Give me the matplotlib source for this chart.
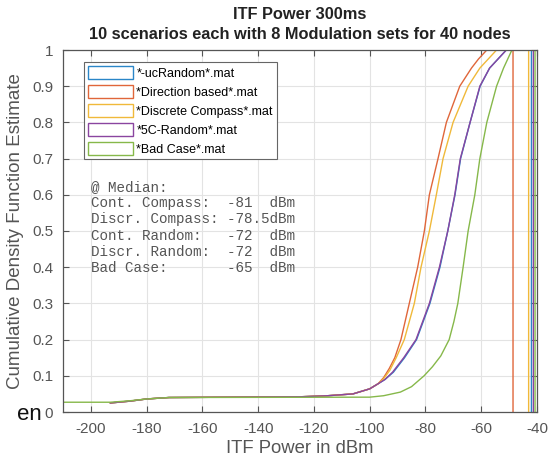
import matplotlib
matplotlib.use("Agg")
import matplotlib.pyplot as plt
from matplotlib.patches import Patch

plt.rcParams['font.family'] = ['Liberation Sans', 'DejaVu Sans']
plt.rcParams['axes.unicode_minus'] = False

# CDF curves (x in dBm, y = cumulative fraction)
tail_x = [-193, -186, -180, -172, -125, -115, -106, -100, -97]
tail_y = [0.025, 0.030, 0.036, 0.040, 0.042, 0.045, 0.050, 0.064, 0.078]

blue_x = tail_x + [-94.5, -91.5, -87.5, -83.2, -78.4, -74.8, -72, -69.4, -67.4, -64, -60.4, -57, -54, -51, -42, -42]
blue_y = tail_y + [0.09, 0.11, 0.15, 0.2, 0.3, 0.4, 0.5, 0.6, 0.7, 0.8, 0.9, 0.95, 0.975, 1.0, 1.0, 0.0]

red_x = tail_x + [-95, -93, -91, -88.8, -85.8, -82.8, -80.4, -78.6, -75.5, -72.5, -67.7, -63.5, -61, -58, -48.6, -48.6]
red_y = tail_y + [0.095, 0.12, 0.15, 0.2, 0.3, 0.4, 0.5, 0.6, 0.7, 0.8, 0.9, 0.95, 0.975, 1.0, 1.0, 0.0]

yellow_x = tail_x + [-95, -92.8, -90.5, -87.6, -84, -81.6, -78.6, -76.1, -73.7, -70.1, -64.7, -60.5, -57.5, -54.5, -43, -43]
yellow_y = tail_y + [0.092, 0.115, 0.15, 0.2, 0.3, 0.4, 0.5, 0.6, 0.7, 0.8, 0.9, 0.95, 0.975, 1.0, 1.0, 0.0]

purple_x = tail_x + [-94.5, -91.8, -87.8, -83.4, -78.6, -75, -72, -69.5, -67.5, -64, -60.5, -57, -54, -51, -41.3, -41.3]
purple_y = tail_y + [0.09, 0.11, 0.15, 0.2, 0.3, 0.4, 0.5, 0.6, 0.7, 0.8, 0.9, 0.95, 0.975, 1.0, 1.0, 0.0]

green_x = [-215, -193, -186, -180, -172, -100, -95, -89, -85, -80.5, -77.5, -74.5, -71.5, -69.8, -68.4, -66.5,
           -64.7, -62.3, -60.5, -58, -54.5, -52, -50.5, -49, -40.7, -40.7]
green_y = [0.027, 0.027, 0.031, 0.036, 0.040, 0.041, 0.045, 0.055, 0.07, 0.1, 0.125, 0.155, 0.2, 0.25, 0.3, 0.4,
           0.5, 0.6, 0.7, 0.8, 0.9, 0.95, 0.975, 1.0, 1.0, 0.0]

labels = ["*-ucRandom*.mat", "*Direction based*.mat", "*Discrete Compass*.mat",
          "*5C-Random*.mat", "*Bad Case*.mat"]
colors = ["#2a86c8", "#e0663a", "#f0b93a", "#8a45a0", "#86b84a"]

median_text = ("@ Median:\n"
               "Cont. Compass:  -81  dBm\n"
               "Discr. Compass: -78.5dBm\n"
               "Cont. Random:   -72  dBm\n"
               "Discr. Random:  -72  dBm\n"
               "Bad Case:       -65  dBm")

fig = plt.figure(figsize=(5.51, 4.62), dpi=100)
ax = fig.add_axes([63 / 551, 50 / 462, 474 / 551, 362 / 462])

series = [(blue_x, blue_y), (red_x, red_y), (yellow_x, yellow_y),
          (purple_x, purple_y), (green_x, green_y)]
for (xs, ys), c in zip(series, colors):
    ax.plot(xs, ys, color=c, lw=1.0)

ax.set_xlim(-210, -40)
ax.set_ylim(0, 1)
ax.set_xticks(range(-200, -39, 20))
ax.set_yticks([i / 10 for i in range(11)])
ax.set_yticklabels(["0"] + ["%.1f" % (i / 10) for i in range(1, 10)] + ["1"])
ax.grid(True, color="#e3e3e3", lw=0.8)
ax.set_axisbelow(True)
ax.tick_params(direction="in", length=4, top=True, right=True, labelsize=11,
               colors="#555555", labelcolor="#555555", pad=7)
for s in ax.spines.values():
    s.set_color("#555555")
    s.set_linewidth(0.9)

ax.set_xlabel("ITF Power in dBm", fontsize=13.3, color="#555555", labelpad=3)
ax.set_ylabel("Cumulative Density Function Estimate", fontsize=13.5, color="#555555", labelpad=6)
ax.set_title("ITF Power 300ms\n10 scenarios each with 8 Modulation sets for 40 nodes",
             fontsize=11.8, fontweight="bold", color="#222222", pad=8, linespacing=1.4)

handles = [Patch(facecolor="white", edgecolor=c, lw=1.0) for c in colors]
leg = ax.legend(handles, labels, loc="upper left", bbox_to_anchor=(0.044, 0.967),
                borderaxespad=0, fontsize=9, handlelength=3.6, handleheight=1.3,
                handletextpad=0.3, labelspacing=0.4, borderpad=0.3,
                fancybox=False, framealpha=1, edgecolor="#666666")
leg.get_frame().set_linewidth(0.8)

ax.text(0.059, 0.641, median_text, transform=ax.transAxes, va="top", ha="left",
        family=["Liberation Mono", "DejaVu Sans Mono"], fontsize=10.3,
        color="#555555", linespacing=1.2)

fig.text(17 / 551, 1 - 415 / 462, "en", fontsize=16, va="center", ha="left", color="#111111")

fig.savefig("out.png", dpi=100)
